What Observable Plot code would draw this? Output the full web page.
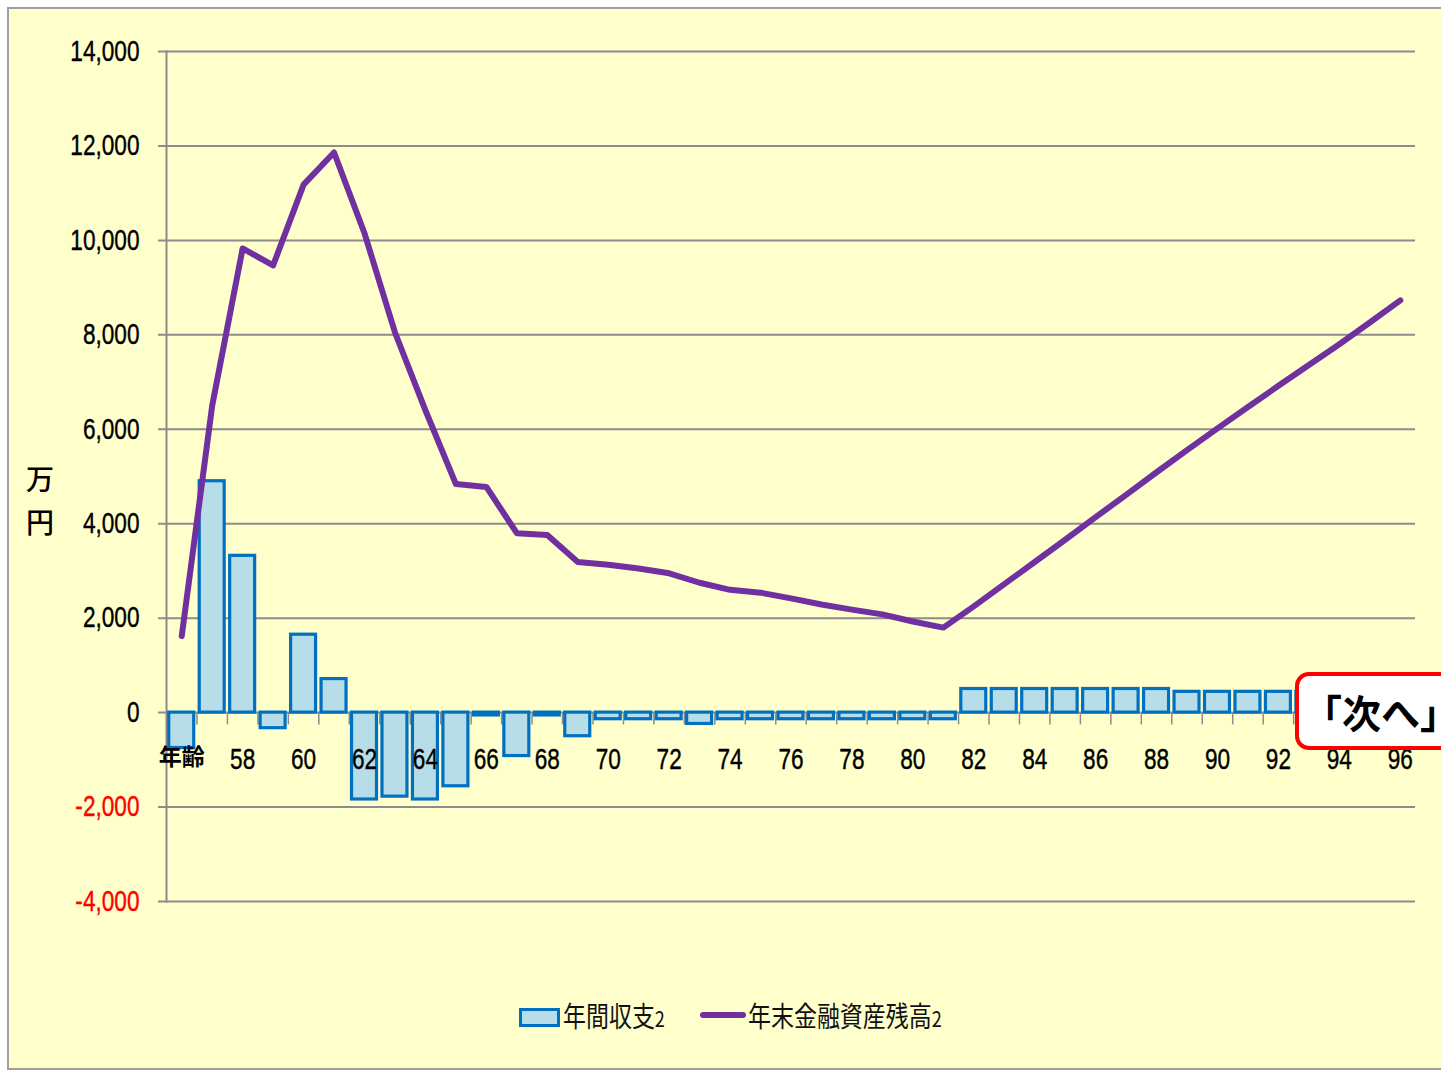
<!DOCTYPE html>
<html><head><meta charset="utf-8">
<script src="https://cdn.jsdelivr.net/npm/d3@7"></script>
<script src="https://cdn.jsdelivr.net/npm/@observablehq/plot@0.6"></script>
<style>
html,body{margin:0;padding:0;background:#fff;overflow:hidden;width:1441px;height:1074px;}
#frame{position:absolute;left:7px;top:7px;width:1440px;height:1059px;border:2px solid #a0a0a0;background:#FFFFCC;}
#chart{position:absolute;left:0;top:0;}
#ylab{position:absolute;left:16px;top:448px;width:30px;text-align:center;font:500 28px "Noto Sans CJK JP",sans-serif;line-height:43px;color:#000;}
.sw1{position:absolute;left:510px;top:999px;width:35px;height:13px;background:#B7DEE8;border:3px solid #0070C0;}
.sw2{position:absolute;left:691px;top:1003px;width:46px;height:6px;background:#7030A0;border-radius:3px;}
.lt{position:absolute;top:984px;font:400 28px "Noto Sans CJK JP",sans-serif;line-height:44px;color:#111;transform:scaleX(0.82);transform-origin:left center;white-space:nowrap;}
.lt small{font-size:22px;}
#next{position:absolute;left:1286px;top:663px;width:220px;height:70px;border:4px solid #ff0000;border-radius:14px;background:#fff;font:700 39px "Noto Sans CJK JP",sans-serif;line-height:70px;padding-left:4px;color:#000;white-space:nowrap;}
</style></head>
<body>
<div id="frame">
  <div id="chart"></div>
  <div id="ylab">万<br>円</div>
  <div class="sw1"></div><div class="lt" style="left:554px">年間収支<small>2</small></div>
  <div class="sw2"></div><div class="lt" style="left:739px">年末金融資産残高<small>2</small></div>
  <div id="next">「次へ」</div>
</div>
<script>
const ages = [56,57,58,59,60,61,62,63,64,65,66,67,68,69,70,71,72,73,74,75,76,77,78,79,80,81,82,83,84,85,86,87,88,89,90,91,92,93,94,95,96];
// 年間収支2 (万円)
const net = [-750,4900,3320,-330,1650,710,-1840,-1780,-1840,-1560,-60,-920,-60,-500,-140,-140,-140,-240,-140,-140,-140,-140,-140,-140,-140,-140,500,500,500,500,500,500,500,440,440,440,440,440,440,440,440];
// 年末金融資産残高2 (万円)
const balance = [1620,6500,9830,9470,11180,11860,10150,8050,6400,4840,4780,3800,3760,3190,3130,3050,2950,2750,2600,2540,2420,2290,2180,2080,1930,1800,2250,2720,3190,3660,4140,4610,5090,5560,6020,6470,6920,7360,7800,8260,8730];
const yTicks = [-4000,-2000,0,2000,4000,6000,8000,10000,12000,14000];
const xLabels = ["年齢","","58","","60","","62","","64","","66","","68","","70","","72","","74","","76","","78","","80","","82","","84","","86","","88","","90","","92","","94","","96"];

const data = ages.map((a,i)=>({age:a, net:net[i], balance:balance[i], label:xLabels[i]}));
const grid = "#8c8c8c";
const fmt = d => d3.format(",")(d).replace("\u2212","-");

const chart = Plot.plot({
  width:1432, height:960,
  marginLeft:157, marginRight:26, marginTop:42, marginBottom:68,
  style:{background:"transparent", fontFamily:'"Liberation Sans",Arial,sans-serif', fontSize:"29px", color:"#000", overflow:"visible"},
  x:{type:"band", domain:ages, paddingInner:0.18, paddingOuter:0.09, round:false, axis:null},
  y:{domain:[-4000,14000], axis:null},
  marks:[
    Plot.ruleY(yTicks, {y:d=>d, stroke:grid, strokeWidth:2, insetLeft:-8}),
    Plot.frame({anchor:"left", stroke:grid, strokeWidth:2}),
    Plot.text(yTicks, {y:d=>d, frameAnchor:"left", dx:-27, textAnchor:"end", text:d=>fmt(d), fill:d=>d<0?"#ff0000":"#000000", stroke:d=>d<0?"#ff0000":"#000000", strokeWidth:0.4}),
    Plot.ruleX(ages, {x:d=>d, dx:15.23, y1:()=>0, y2:()=>-260, stroke:grid, strokeWidth:1.5}),
    Plot.barY(data, {x:"age", y:"net", fill:"#B7DEE8", stroke:"#0070C0", strokeWidth:3.2}),
    Plot.line(data, {x:"age", y:"balance", stroke:"#7030A0", strokeWidth:6}),
    Plot.text(data.filter(d=>d.age!==56), {x:"age", y:()=>0, dy:47, text:"label", fill:"#000", stroke:"#000", strokeWidth:0.4}),
    Plot.text(data.filter(d=>d.age===56), {x:"age", y:()=>0, dy:45, text:"label", fill:"#000", fontFamily:'"Noto Sans CJK JP",sans-serif', fontWeight:"bold", fontSize:23})
  ]
});
document.getElementById("chart").appendChild(chart);
// condense the numeric tick labels horizontally (Calibri-like narrow look)
const groups = chart.querySelectorAll('g[aria-label="text"]');
[groups[0], groups[1]].forEach(g => {
  if (!g) return;
  g.querySelectorAll("text").forEach(t => {
    const tr = t.getAttribute("transform");
    if (tr) {
      t.setAttribute("transform", tr + " scale(0.78,1)");
    } else {
      const x = +t.getAttribute("x") || 0, y = +t.getAttribute("y") || 0;
      t.removeAttribute("x"); t.removeAttribute("y");
      t.setAttribute("transform", `translate(${x},${y}) scale(0.78,1)`);
    }
  });
});
</script>
</body></html>
